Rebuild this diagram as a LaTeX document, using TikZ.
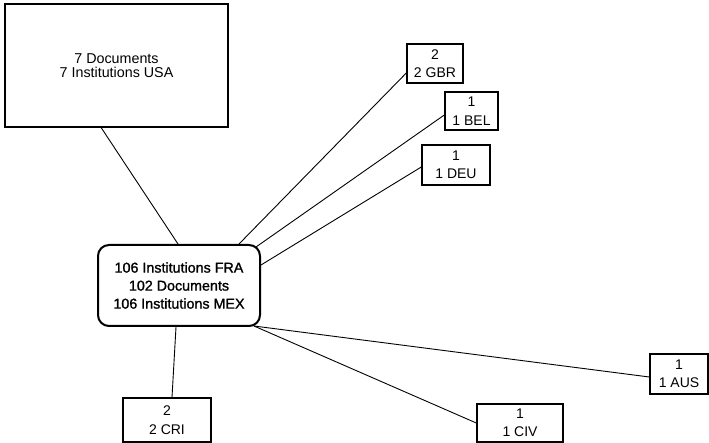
\documentclass[tikz,border=0pt]{standalone}
\usepackage{fontspec}
\setmainfont{Liberation Sans}
\newfontfamily\hubfont[FakeBold=1.3]{Liberation Sans}
\begin{document}
\begin{tikzpicture}[x=1pt,y=-1pt,
  usabox/.style={draw, line width=1.5pt, minimum width=223pt, minimum height=123pt, inner sep=0pt, align=center, font=\fontsize{14.3}{14.5}\selectfont},
  hubbox/.style={draw, line width=2pt, rounded corners=11pt, minimum width=162pt, minimum height=81pt, inner sep=0pt, align=center, font=\hubfont\fontsize{14.3}{18}\selectfont},
  smallbox/.style={draw, line width=1.4pt, inner sep=0pt, align=center, font=\fontsize{14}{18.5}\selectfont},
  link/.style={draw, line width=0.9pt}]
\useasboundingbox (0,0) rectangle (709,443);
\node[usabox] (usa) at (116.5,65.5) {7 Documents\\7 Institutions USA};
\node[hubbox] (c) at (179,285.5) {106 Institutions FRA\\102 Documents\\106 Institutions MEX};
\node[smallbox, minimum width=56pt, minimum height=39pt] (gbr) at (435,63.5) {2\\2 GBR};
\node[smallbox, minimum width=53pt, minimum height=38pt] (bel) at (471.5,111) {1\\1 BEL};
\node[smallbox, minimum width=68pt, minimum height=40pt] (deu) at (456,165) {1\\1 DEU};
\node[smallbox, minimum width=88pt, minimum height=44pt] (cri) at (167,420) {2\\2 CRI};
\node[smallbox, minimum width=86pt, minimum height=38pt] (civ) at (520,423) {1\\1 CIV};
\node[smallbox, minimum width=58pt, minimum height=40pt] (aus) at (679,374) {1\\1 AUS};
\draw[link] ([xshift=81pt]c.north west) -- ([xshift=97pt]usa.south west);
\draw[link] ([xshift=142pt]c.north west) -- ([yshift=-9.5pt]gbr.west);
\draw[link] ([xshift=-5pt,yshift=-3pt]c.north east) -- ([yshift=-4pt]bel.west);
\draw[link] ([yshift=-21pt]c.north east) -- ([yshift=-2pt]deu.west);
\draw[link] ([xshift=79pt]c.south west) -- ([xshift=5pt]cri.north);
\draw[link] ([xshift=-7pt,yshift=1pt]c.south east) -- (civ.west);
\draw[link] ([xshift=-7pt,yshift=1pt]c.south east) -- ([yshift=-3pt]aus.west);
\end{tikzpicture}
\end{document}
